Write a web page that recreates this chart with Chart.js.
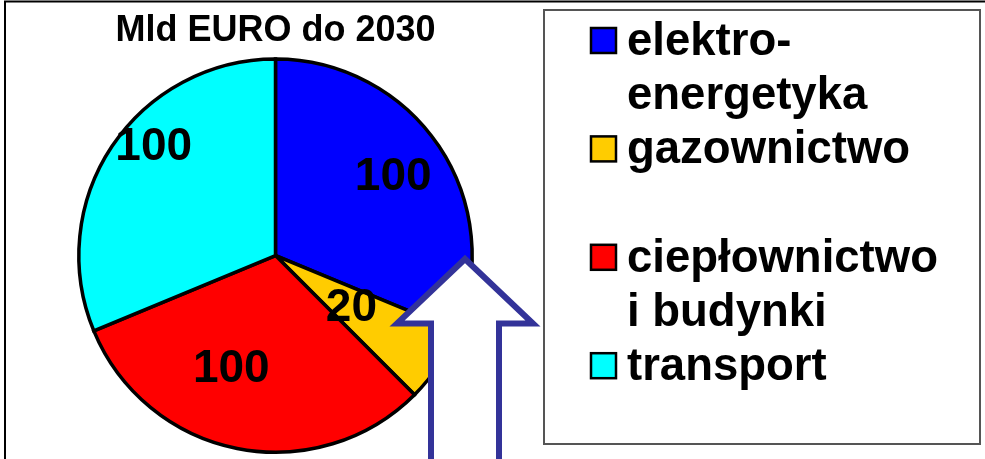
<!DOCTYPE html>
<html>
<head>
<meta charset="utf-8">
<script src="https://cdn.jsdelivr.net/npm/chart.js@4.4.1/dist/chart.umd.min.js"></script>
<style>
  html, body { margin: 0; padding: 0; background: #fff; }
  #wrap { width: 985px; height: 459px; }
</style>
</head>
<body>
<div id="wrap"><canvas id="myChart" width="985" height="459"></canvas></div>
<script>
const chartTitle = 'Mld EURO do 2030';
const categories = ['elektro-\nenergetyka', 'gazownictwo\n', 'ciepłownictwo\ni budynki', 'transport'];
const investments = [100, 20, 100, 100];
const sliceColors = ['#0000ff', '#ffcc00', '#ff0000', '#00ffff'];

const fontFamily = '"Liberation Sans", Arial, Helvetica, sans-serif';

// where each value label sits in its slice: share of radius, angle shift (deg)
const labelPlacement = [
    { r: 0.72, shift: 0 },
    { r: 0.47, shift: 1 },
    { r: 0.62, shift: 10 },
    { r: 0.83, shift: 8 }
];

const whiteBackground = {
    id: 'whiteBackground',
    beforeDraw(chart) {
        const ctx = chart.ctx;
        ctx.save();
        ctx.fillStyle = '#ffffff';
        ctx.fillRect(0, 0, chart.width, chart.height);
        ctx.restore();
    }
};

const sliceLabels = {
    id: 'sliceLabels',
    afterDatasetsDraw(chart) {
        const ctx = chart.ctx;
        const meta = chart.getDatasetMeta(0);
        ctx.save();
        ctx.font = 'bold 46px ' + fontFamily;
        ctx.fillStyle = '#000';
        ctx.textAlign = 'center';
        ctx.textBaseline = 'middle';
        meta.data.forEach((arc, i) => {
            const p = arc.getProps(['x', 'y', 'startAngle', 'endAngle', 'outerRadius'], true);
            const place = labelPlacement[i];
            const mid = (p.startAngle + p.endAngle) / 2 + place.shift * Math.PI / 180;
            const r = p.outerRadius * place.r;
            ctx.fillText(String(chart.data.datasets[0].data[i]),
                p.x + Math.cos(mid) * r, p.y + Math.sin(mid) * r);
        });
        ctx.restore();
    }
};

// legend in a framed box on the right, labels may span several lines
const boxLegend = {
    id: 'boxLegend',
    afterDraw(chart) {
        const ctx = chart.ctx;
        const left = 544, top = 10, right = 980, bottom = 444;
        const firstBaseline = 55, lineHeight = 54.2;
        ctx.save();
        ctx.strokeStyle = '#555';
        ctx.lineWidth = 2;
        ctx.strokeRect(left, top, right - left, bottom - top);

        ctx.font = 'bold 45.5px ' + fontFamily;
        ctx.fillStyle = '#000';
        ctx.textAlign = 'left';
        ctx.textBaseline = 'alphabetic';
        const colors = chart.data.datasets[0].backgroundColor;
        let line = 0;
        chart.data.labels.forEach((label, i) => {
            const y = firstBaseline + line * lineHeight;
            ctx.fillStyle = colors[i];
            ctx.fillRect(591, y - 27, 25, 25);
            ctx.strokeStyle = '#000';
            ctx.lineWidth = 2.5;
            ctx.strokeRect(591, y - 27, 25, 25);
            ctx.fillStyle = '#000';
            for (const text of label.split('\n')) {
                ctx.fillText(text, 627, firstBaseline + line * lineHeight);
                line++;
            }
        });
        ctx.restore();
    }
};

// outlined arrow pointing up at the chart, plus the slide frame lines
const arrowAndFrame = {
    id: 'arrowAndFrame',
    afterDraw(chart) {
        const ctx = chart.ctx;
        ctx.save();
        ctx.beginPath();
        ctx.moveTo(465, 259);
        ctx.lineTo(533, 323.5);
        ctx.lineTo(499, 323.5);
        ctx.lineTo(499, 475);
        ctx.lineTo(431, 475);
        ctx.lineTo(431, 323.5);
        ctx.lineTo(397, 323.5);
        ctx.closePath();
        ctx.fillStyle = '#ffffff';
        ctx.fill();
        ctx.lineWidth = 6;
        ctx.lineJoin = 'miter';
        ctx.strokeStyle = '#333399';
        ctx.stroke();

        ctx.strokeStyle = '#000';
        ctx.lineWidth = 2;
        ctx.beginPath();
        ctx.moveTo(4, 1.5);
        ctx.lineTo(985, 1.5);
        ctx.moveTo(5, 1);
        ctx.lineTo(5, 459);
        ctx.stroke();
        ctx.restore();
    }
};

const data = {
    labels: categories,
    datasets: [{
        data: investments,
        backgroundColor: sliceColors,
        borderColor: '#000',
        borderWidth: 3.5,
        borderJoinStyle: 'miter'
    }]
};

const config = {
    type: 'pie',
    data: data,
    options: {
        responsive: false,
        devicePixelRatio: 1,
        animation: false,
        layout: {
            padding: { left: 77, right: 511, top: 0, bottom: 5 }
        },
        plugins: {
            title: {
                display: true,
                text: chartTitle,
                color: '#000',
                font: { family: fontFamily, size: 36, weight: 'bold', lineHeight: 1.2 },
                padding: { top: 9, bottom: 5 }
            },
            legend: { display: false },
            tooltip: { enabled: false }
        }
    },
    plugins: [whiteBackground, sliceLabels, boxLegend, arrowAndFrame]
};

var myChart = new Chart(document.getElementById('myChart'), config);
</script>
</body>
</html>
